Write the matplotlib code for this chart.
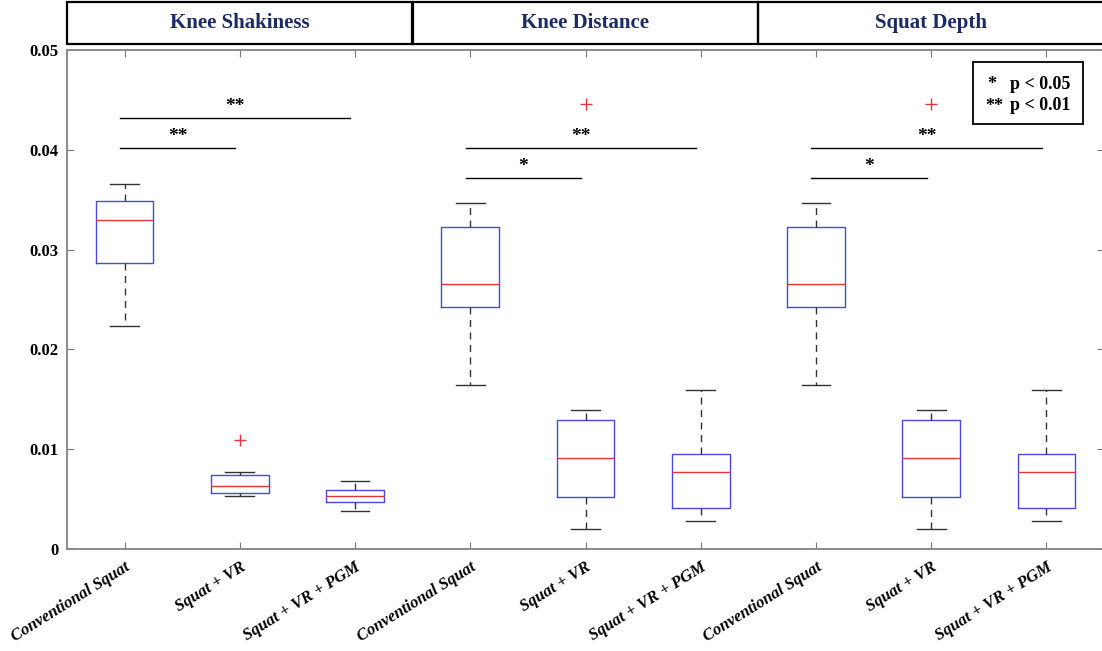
import matplotlib
matplotlib.use("Agg")
import matplotlib.pyplot as plt
from matplotlib.patches import Rectangle

# ---------------- data ----------------
panels = ["Knee Shakiness", "Knee Distance", "Squat Depth"]
conditions = ["Conventional Squat", "Squat + VR", "Squat + VR + PGM"]
tick_labels = conditions * 3

whislo = [0.0223, 0.0053, 0.0038, 0.0164, 0.0020, 0.0028, 0.0164, 0.0020, 0.0028]
q1     = [0.0287, 0.0056, 0.0047, 0.0242, 0.0052, 0.0041, 0.0242, 0.0052, 0.0041]
med    = [0.0330, 0.0063, 0.0053, 0.0266, 0.0091, 0.0077, 0.0266, 0.0091, 0.0077]
q3     = [0.0349, 0.0074, 0.0059, 0.0323, 0.0129, 0.0095, 0.0323, 0.0129, 0.0095]
whishi = [0.0366, 0.0077, 0.0068, 0.0347, 0.0139, 0.0159, 0.0347, 0.0139, 0.0159]
fliers = [[], [0.0109], [], [], [0.0446], [], [], [0.0446], []]

# significance brackets: (start box, end box, height, label)
sig_start = [1, 1, 4, 4, 7, 7]
sig_end   = [2, 3, 5, 6, 8, 9]
sig_y     = [0.0402, 0.0432, 0.0372, 0.0402, 0.0372, 0.0402]
sig_label = ["**", "**", "*", "**", "*", "**"]

yticks = [0, 0.01, 0.02, 0.03, 0.04, 0.05]
ytick_labels = ["0", "0.01", "0.02", "0.03", "0.04", "0.05"]

# ---------------- figure ----------------
W, H = 1102, 651
fig = plt.figure(figsize=(W / 100, H / 100), dpi=100)
ax_l, ax_r, ax_b, ax_t = 67, 1104, 549, 50
ax = fig.add_axes([ax_l / W, 1 - ax_b / H, (ax_r - ax_l) / W, (ax_b - ax_t) / H])

stats = []
for i in range(9):
    stats.append(dict(whislo=whislo[i], q1=q1[i], med=med[i], q3=q3[i],
                      whishi=whishi[i], fliers=fliers[i], label=tick_labels[i]))
positions = list(range(1, 10))
ax.bxp(stats, positions=positions, widths=0.5, showfliers=True,
       boxprops=dict(color="#4a4ae0", linewidth=1.0),
       medianprops=dict(color="#e0363a", linewidth=1.0),
       whiskerprops=dict(color="#333333", linewidth=1.0, linestyle=(0, (5, 4))),
       capprops=dict(color="#333333", linewidth=1.0),
       capwidths=0.25,
       flierprops=dict(marker="+", markeredgecolor="#e0363a", markersize=8,
                       markeredgewidth=1.0, linestyle="none"))

ax.set_xlim(0.5, 9.5)
ax.set_ylim(0, 0.05)
ax.set_yticks(yticks)
ax.set_yticklabels(ytick_labels, fontfamily="Liberation Serif",
                   fontweight="bold", fontsize=12)
ax.set_xticks(positions)
ax.set_xticklabels(tick_labels, rotation=32, ha="right", rotation_mode="anchor",
                   fontfamily="Liberation Serif", fontstyle="italic",
                   fontweight="bold", fontsize=12)
ax.tick_params(direction="in", length=5, color="#777777", top=True, right=True,
               pad=6)
ax.tick_params(axis="x", pad=7)
for s in ax.spines.values():
    s.set_color("#8a8a8a")
    s.set_linewidth(1.4)

# significance markers
for a, b, y, lab in zip(sig_start, sig_end, sig_y, sig_label):
    ax.plot([a - 0.04, b - 0.04], [y, y], color="black", linewidth=1.0)
    ax.text((a + b) / 2 - 0.04, y + 0.0003, lab,
            ha="center", va="bottom", fontsize=14, fontweight="bold",
            fontfamily="Liberation Serif")

# legend box
leg = Rectangle((8.36, 0.0426), 0.96, 0.0062, transform=ax.transData,
                fill=True, facecolor="white", edgecolor="black", linewidth=1.3,
                zorder=5)
ax.add_patch(leg)
ax.text(8.49, 0.0465, "*", fontsize=13, fontweight="bold",
        fontfamily="Liberation Serif", va="center", ha="left", zorder=6)
ax.text(8.68, 0.0465, "p < 0.05", fontsize=13, fontweight="bold",
        fontfamily="Liberation Serif", va="center", ha="left", zorder=6)
ax.text(8.47, 0.0443, "**", fontsize=13, fontweight="bold",
        fontfamily="Liberation Serif", va="center", ha="left", zorder=6)
ax.text(8.68, 0.0444, "p < 0.01", fontsize=13, fontweight="bold",
        fontfamily="Liberation Serif", va="center", ha="left", zorder=6)

# header panels
hx = [67, 412, 758]
hw = 346
for x0, name in zip(hx, panels):
    fig.add_artist(Rectangle((x0 / W, 1 - 44 / H), hw / W, 42 / H,
                             transform=fig.transFigure, fill=False,
                             edgecolor="black", linewidth=1.6))
    fig.text((x0 + hw / 2) / W, 1 - 23 / H, name, ha="center", va="center",
             fontsize=15, fontweight="bold", color="#1b2b66",
             fontfamily="Liberation Serif")

fig.savefig("out.png", dpi=100)
